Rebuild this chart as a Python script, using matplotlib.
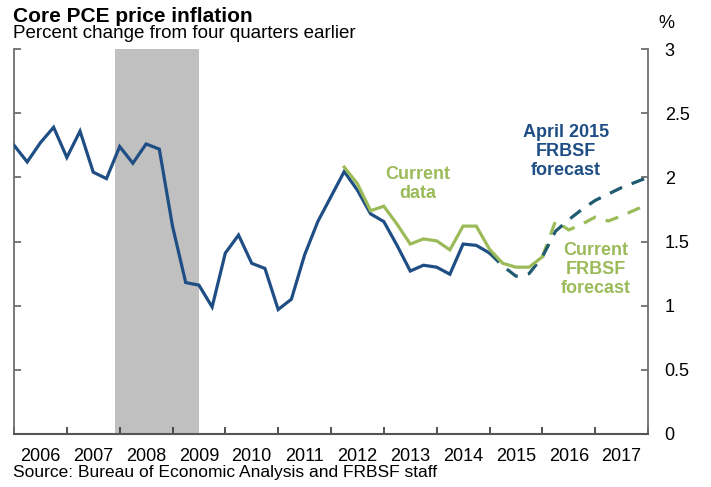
import matplotlib
matplotlib.use("Agg")
import matplotlib.pyplot as plt
import numpy as np

plt.rcParams['font.family'] = ['Liberation Sans', 'DejaVu Sans']

# ---- data (quarterly, first point plotted at 2006.0) ----
start_year = 2006.0
blue_actual = [2.25, 2.12, 2.27, 2.39, 2.155, 2.36, 2.04, 1.99, 2.24, 2.11, 2.26, 2.22,
               1.62, 1.18, 1.16, 0.99, 1.41, 1.55, 1.33, 1.29, 0.97, 1.05, 1.395, 1.655,
               1.85, 2.045, 1.90, 1.715, 1.655, 1.47, 1.27, 1.315, 1.30, 1.245, 1.48,
               1.47, 1.41]
green_actual_start = 25
green_actual = [2.08, 1.95, 1.74, 1.775, 1.635, 1.48, 1.52, 1.505, 1.435, 1.62, 1.62,
                1.44, 1.33, 1.30, 1.30, 1.38]
blue_fc_start = 36
blue_forecast = [1.41, 1.31, 1.23, 1.25, 1.38, 1.58, 1.67, 1.75, 1.82, 1.87, 1.92, 1.96, 2.00]
green_fc_start = 40
green_forecast = [1.38, 1.66, 1.59, 1.635, 1.69, 1.66, 1.70, 1.745, 1.79]
recession = (2007.92, 2009.5)
years = list(range(2006, 2018))
yticks = [0, 0.5, 1, 1.5, 2, 2.5, 3]
ytick_labels = ['0', '0.5', '1', '1.5', '2', '2.5', '3']


def qx(start, n):
    return start_year + (start + np.arange(n)) / 4.0


BLUE = '#1F4E85'
BLUE_DASH = '#1F5A70'
GREEN = '#9BBB59'

fig = plt.figure(figsize=(7.11, 4.87), dpi=100)
ax = fig.add_axes([14 / 711, (487 - 434) / 487, 634 / 711, 385 / 487])

ax.axvspan(recession[0], recession[1], color='#C0C0C0', lw=0, zorder=0)

lw = 2.3
ax.plot(qx(green_fc_start, len(green_forecast)), green_forecast, color=GREEN, lw=lw,
        dashes=(4.2, 3.2), dash_capstyle='butt', zorder=2)
ax.plot(qx(blue_fc_start, len(blue_forecast)), blue_forecast, color=BLUE_DASH, lw=lw,
        dashes=(4.2, 3.2), dash_capstyle='butt', zorder=3)
ax.plot(qx(0, len(blue_actual)), blue_actual, color=BLUE, lw=lw, zorder=3,
        solid_joinstyle='miter')
ax.plot(qx(green_actual_start, len(green_actual)), green_actual, color=GREEN, lw=lw,
        zorder=4, solid_joinstyle='miter')

ax.set_xlim(2006, 2018)
ax.set_ylim(0, 3)

ax.spines['top'].set_visible(False)
for s in ['left', 'right']:
    ax.spines[s].set_color('#6E6E6E')
    ax.spines[s].set_linewidth(1.3)
ax.spines['bottom'].set_color('#555555')
ax.spines['bottom'].set_linewidth(1.5)

ax.set_yticks(yticks)
ax.set_yticklabels(ytick_labels)
ax.tick_params(axis='y', which='major', direction='in', length=5, width=1.3,
               color='#6E6E6E', left=True, right=True, labelleft=False,
               labelright=True, labelsize=13, pad=12)

ax.set_xticks([y for y in years] + [2018])
ax.set_xticklabels([])
ax.set_xticks([y + 0.5 for y in years], minor=True)
ax.set_xticklabels([str(y) for y in years], minor=True)
ax.tick_params(axis='x', which='major', direction='in', length=5, width=1.2,
               color='#333333')
ax.tick_params(axis='x', which='minor', length=0, labelsize=13, pad=10)

bold = dict(fontsize=13, fontweight='bold', ha='center', va='center', linespacing=1.15)
ax.text(2013.65, 1.95, 'Current\ndata', color=GREEN, **bold)
ax.text(2016.45, 2.20, 'April 2015\nFRBSF\nforecast', color=BLUE, **bold)
ax.text(2017.02, 1.28, 'Current\nFRBSF\nforecast', color=GREEN, **bold)

fig.text(13 / 711, 1 - 21.7 / 487, 'Core PCE price inflation', fontsize=15,
         fontweight='bold', ha='left', va='baseline')
fig.text(13 / 711, 1 - 38 / 487, 'Percent change from four quarters earlier',
         fontsize=13.5, ha='left', va='baseline')
fig.text(658 / 711, 1 - 23.5 / 487, '%', fontsize=13, ha='left', va='center')
fig.text(13 / 711, 1 - 472 / 487, 'Source: Bureau of Economic Analysis and FRBSF staff',
         fontsize=12.5, ha='left', va='center')

fig.savefig('out.png', dpi=100)
